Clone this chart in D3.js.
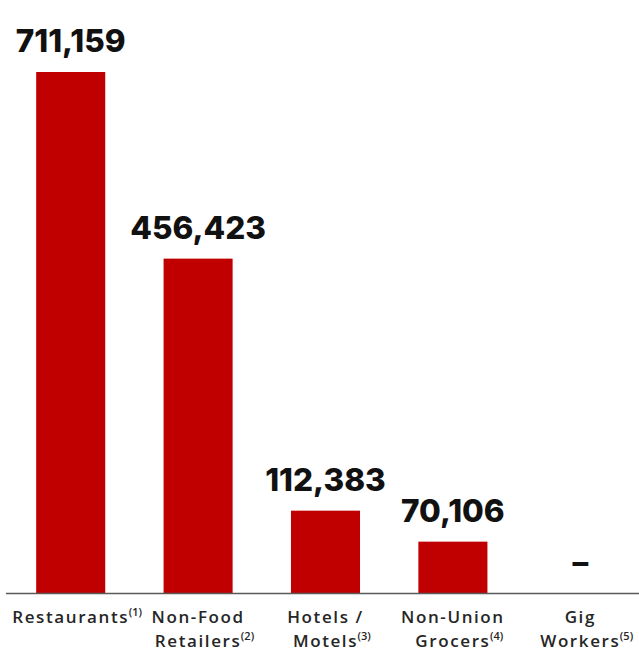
<!DOCTYPE html>
<html><head><meta charset="utf-8">
<script src="https://cdn.jsdelivr.net/npm/d3@7"></script>
<style>body{margin:0;background:#fff}svg{display:block}</style>
</head><body>
<script>
const categories = ["Restaurants", "Non-Food Retailers", "Hotels / Motels", "Non-Union Grocers", "Gig Workers"];
const labelLines = [["Restaurants"], ["Non-Food", "Retailers"], ["Hotels /", "Motels"], ["Non-Union", "Grocers"], ["Gig", "Workers"]];
const footnotes = ["(1)", "(2)", "(3)", "(4)", "(5)"];
const values = [711159, 456423, 112383, 70106, null];

const W = 639, H = 651;
const svg = d3.select("body").append("svg").attr("width", W).attr("height", H);
const baseY = 593;
const x = d3.scaleBand().domain(categories).range([7, 644]).paddingInner(0.458).paddingOuter(0.229);
const y = d3.scaleLinear().domain([0, 711159]).range([baseY, 72]);

svg.selectAll("rect.bar").data(categories.map((c, i) => ({c, v: values[i]})).filter(d => d.v != null))
  .enter().append("rect").attr("class", "bar")
  .attr("x", d => x(d.c)).attr("width", x.bandwidth())
  .attr("y", d => y(d.v)).attr("height", d => baseY - y(d.v))
  .attr("fill", "#c00000");

svg.append("line").attr("x1", 6).attr("x2", 639).attr("y1", baseY + 0.5).attr("y2", baseY + 0.5)
  .attr("stroke", "#5a5a5a").attr("stroke-width", 1.5);

const fmt = d3.format(",");
svg.selectAll("text.val").data(categories.map((c, i) => ({c, v: values[i]})))
  .enter().append("text").attr("class", "val")
  .attr("x", d => x(d.c) + x.bandwidth() / 2)
  .attr("y", d => (d.v == null ? baseY : y(d.v)) - 20)
  .attr("text-anchor", "middle")
  .attr("font-family", "Inter, sans-serif").attr("font-weight", 800).attr("font-size", 31.5)
  .style("font-variant-numeric", "proportional-nums")
  .attr("fill", "#111")
  .text(d => d.v == null ? "–" : fmt(d.v));

categories.forEach((c, i) => {
  const lines = labelLines[i];
  const cx = x(c) + x.bandwidth() / 2;
  lines.forEach((ln, j) => {
    const ly = 623 + j * 24;
    const t = svg.append("text")
      .attr("x", cx).attr("y", ly)
      .attr("text-anchor", "middle")
      .attr("font-family", "'Open Sans', sans-serif").attr("font-weight", 600).attr("font-size", 17)
      .attr("letter-spacing", 1.6)
      .attr("fill", "#262626")
      .text(ln);
    if (j === lines.length - 1) {
      const w = t.node().getComputedTextLength();
      svg.append("text")
        .attr("x", cx + w / 2 - 0.5).attr("y", ly - 7)
        .attr("font-family", "'Open Sans', sans-serif").attr("font-weight", 600).attr("font-size", 11)
        .attr("fill", "#262626")
        .text(footnotes[i]);
    }
  });
});
</script>
</body></html>
